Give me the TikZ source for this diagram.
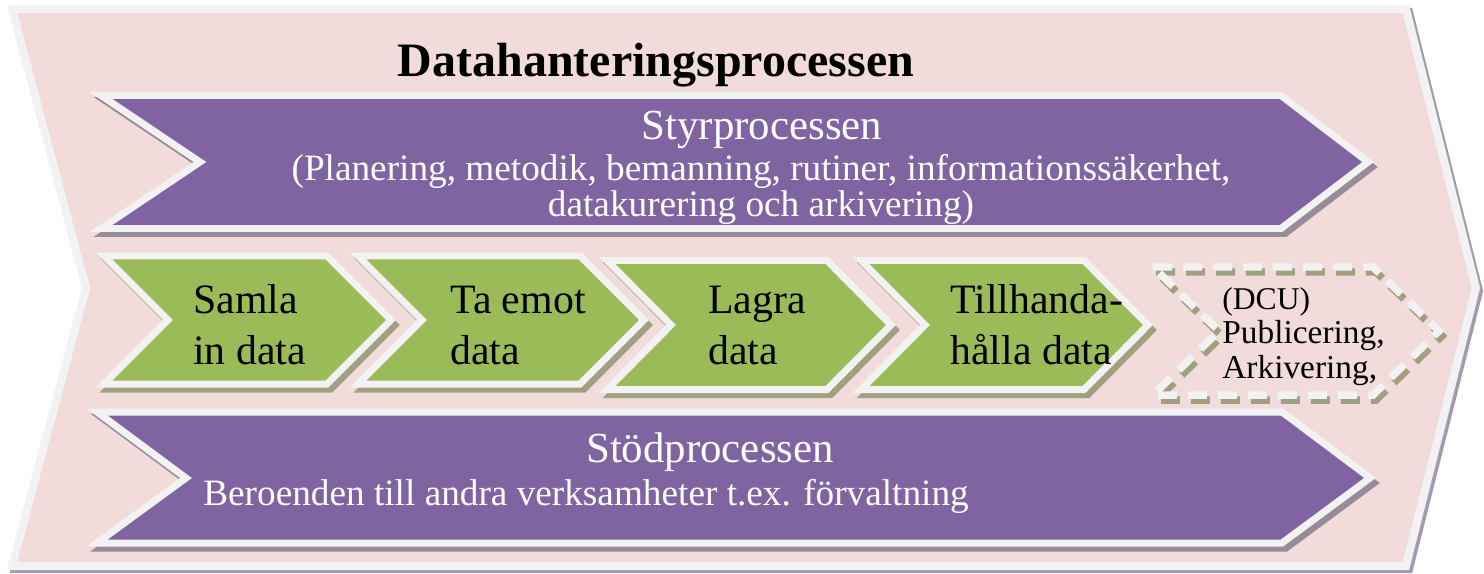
\documentclass[tikz,border=0pt]{standalone}
\usepackage{fontspec}
\setmainfont{Liberation Serif}
\definecolor{pinkbg}{HTML}{F2DCDB}
\definecolor{bordergray}{HTML}{F2F2F2}
\definecolor{outershadow}{HTML}{A39AAE}
\definecolor{purplefill}{HTML}{8064A2}
\definecolor{purpleshadow}{HTML}{978A99}
\definecolor{greenfill}{HTML}{9BBB59}
\definecolor{greenshadow}{HTML}{A0A080}
\newcommand\chevshape[5]{(#1,#2) -- ++(#3,0) -- ++(#5,#4/2) -- ++(-#5,#4/2) -- ++(-#3,0) -- ++(#5,-#4/2) -- cycle}
\tikzset{
  outerbox/.style={fill=pinkbg, draw=bordergray, line width=0.16cm, line join=miter},
  outershad/.style={fill=outershadow, draw=outershadow, line width=0.16cm, line join=miter, shift={(3,3)}},
  purplebox/.style={fill=purplefill, draw=bordergray, line width=0.14cm, line join=miter},
  purpleshad/.style={fill=purpleshadow, draw=purpleshadow, line width=0.14cm, line join=miter, shift={(4,5)}},
  greenbox/.style={fill=greenfill, draw=bordergray, line width=0.14cm, line join=miter},
  greenshad/.style={fill=greenshadow, draw=greenshadow, line width=0.14cm, line join=miter, shift={(4,5)}},
  dashwhite/.style={draw=bordergray, line width=0.15cm, dash pattern=on 0.38cm off 0.22cm, line join=miter},
  dashshad/.style={draw=greenshadow, line width=0.15cm, dash pattern=on 0.38cm off 0.22cm, line join=miter, shift={(3,5)}},
  wtext/.style={text=white, inner sep=0pt},
  btext/.style={text=black, inner sep=0pt, anchor=base west},
  big/.style={font=\fontsize{23.8}{28}\selectfont},
  bigw/.style={font=\fontsize{24.4}{28}\selectfont},
  mid/.style={font=\fontsize{21.2}{24}\selectfont},
  small/.style={font=\fontsize{19}{22}\selectfont},
  smaller/.style={font=\fontsize{18}{21}\selectfont},
}
\begin{document}
\begin{tikzpicture}[x=0.02cm, y=-0.02cm]
\useasboundingbox (0,0) rectangle (1484,574);
% outer chevron
\filldraw[outershad] (12,9) -- (1406,9) -- (1476,288) -- (1406,566) -- (12,566) -- (86,288) -- cycle;
\filldraw[outerbox] (12,9) -- (1406,9) -- (1476,288) -- (1406,566) -- (12,566) -- (86,288) -- cycle;
% title
\node[anchor=base, inner sep=0pt, font=\bfseries\fontsize{27.3}{32}\selectfont] (title) at (656,77) {Datahanteringsprocessen};
% Styrprocessen
\filldraw[purpleshad] (101,95.5) -- (1281,95.5) -- (1368,162) -- (1281,228.5) -- (101,228.5) -- (200,162) -- cycle;
\filldraw[purplebox] (101,95.5) -- (1281,95.5) -- (1368,162) -- (1281,228.5) -- (101,228.5) -- (200,162) -- cycle;
\node[wtext, anchor=base, bigw] (styr) at (762,140) {Styrprocessen};
\node[wtext, anchor=base, mid] (styr2) at (761,181) {(Planering, metodik, bemanning, rutiner, informationssäkerhet,};
\node[wtext, anchor=base, mid] (styr3) at (761,217) {datakurering och arkivering)};
% Stödprocessen
\filldraw[purpleshad] (97,412) -- (1282,412) -- (1370,478) -- (1282,543) -- (97,543) -- (186,478) -- cycle;
\filldraw[purplebox] (97,412) -- (1282,412) -- (1370,478) -- (1282,543) -- (97,543) -- (186,478) -- cycle;
\node[wtext, anchor=base, bigw] (stod) at (710,462) {Stödprocessen};
\node[wtext, anchor=base west, mid] (stod2) at (203,505) {Beroenden till andra verksamheter t.ex. förvaltning};
% green chevrons
\filldraw[greenshad] \chevshape{104}{256}{223}{128}{64};
\filldraw[greenbox] \chevshape{104}{256}{223}{128}{64};
\filldraw[greenshad] \chevshape{358}{256}{222}{128}{64};
\filldraw[greenbox] \chevshape{358}{256}{222}{128}{64};
\filldraw[greenshad] \chevshape{607}{260.5}{220}{129}{64};
\filldraw[greenbox] \chevshape{607}{260.5}{220}{129}{64};
\filldraw[greenshad] \chevshape{861}{260.5}{223}{129}{64};
\filldraw[greenbox] \chevshape{861}{260.5}{223}{129}{64};
\node[btext, big] (g1a) at (193,314) {Samla};
\node[btext, big] (g1b) at (193,364) {in data};
\node[btext, big] (g2a) at (450,314) {Ta emot};
\node[btext, big] (g2b) at (450,364) {data};
\node[btext, big] (g3a) at (708,314) {Lagra};
\node[btext, big] (g3b) at (708,364) {data};
\node[btext, big] (g4a) at (950,314) {Tillhanda-};
\node[btext, big] (g4b) at (950,364) {hålla data};
% dashed chevron
\draw[dashshad] \chevshape{1153}{267}{220}{128}{66};
\draw[dashwhite] \chevshape{1153}{267}{220}{128}{66};
\node[btext, smaller] (d1) at (1222,309) {(DCU)};
\node[btext, small] (d2) at (1222,343) {Publicering,};
\node[btext, small] (d3) at (1222,378) {Arkivering,};
\end{tikzpicture}
\end{document}
